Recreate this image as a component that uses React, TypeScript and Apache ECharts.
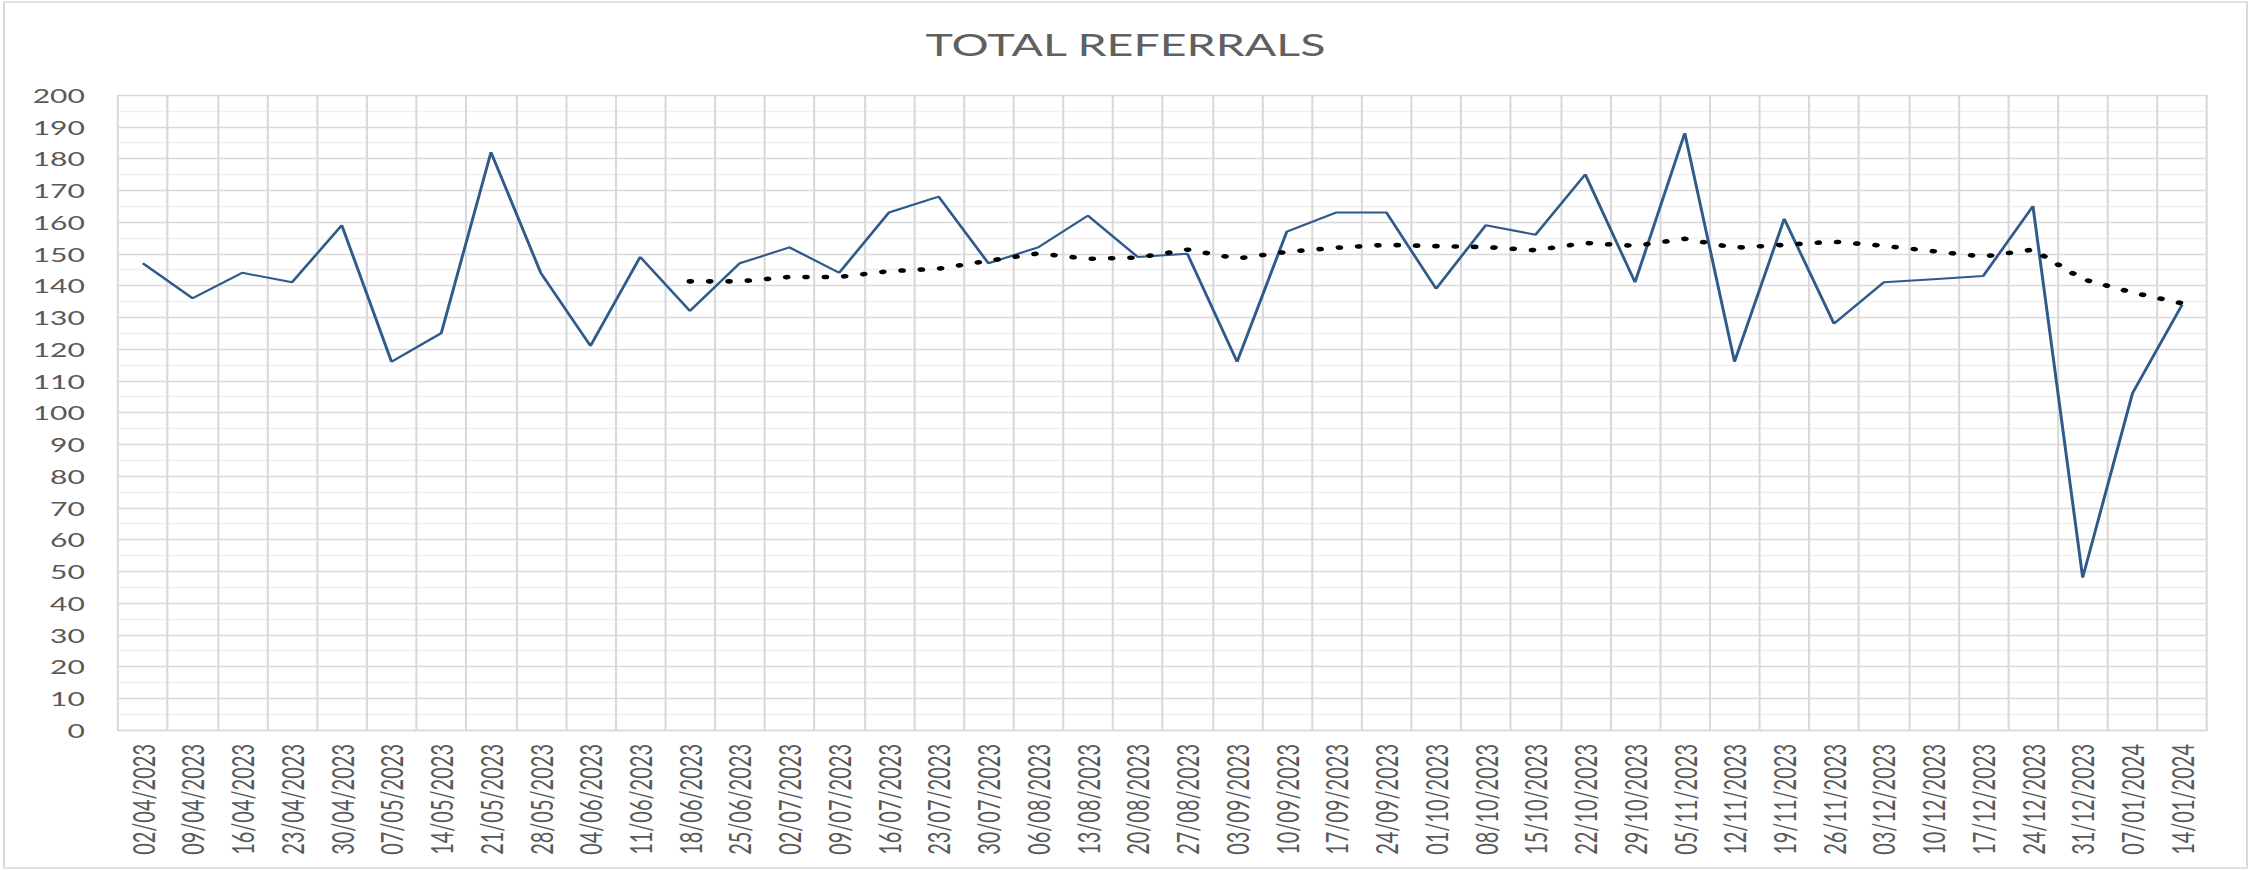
import React, { useEffect, useRef } from "react";
import * as echarts from "echarts";

const weeks: string[] = [
  "02/04/2023", "09/04/2023", "16/04/2023", "23/04/2023", "30/04/2023", "07/05/2023",
  "14/05/2023", "21/05/2023", "28/05/2023", "04/06/2023", "11/06/2023", "18/06/2023",
  "25/06/2023", "02/07/2023", "09/07/2023", "16/07/2023", "23/07/2023", "30/07/2023",
  "06/08/2023", "13/08/2023", "20/08/2023", "27/08/2023", "03/09/2023", "10/09/2023",
  "17/09/2023", "24/09/2023", "01/10/2023", "08/10/2023", "15/10/2023", "22/10/2023",
  "29/10/2023", "05/11/2023", "12/11/2023", "19/11/2023", "26/11/2023", "03/12/2023",
  "10/12/2023", "17/12/2023", "24/12/2023", "31/12/2023", "07/01/2024", "14/01/2024",
];

const referrals: number[] = [
  147, 136, 144, 141, 159, 116, 125, 182, 144, 121, 149, 132,
  147, 152, 144, 163, 168, 147, 152, 162, 149, 150, 116, 157,
  163, 163, 139, 159, 156, 175, 141, 188, 116, 161, 128, 141,
  142, 143, 165, 48, 106, 134,
];

// dotted trend line (12 week moving average)
const trend: (number | null)[] = [
  null, null, null, null, null, null, null, null, null, null, null,
  141.3, 141.3, 142.7, 142.7, 144.5, 145.3, 147.8, 150.1, 148.4, 148.8,
  151.3, 148.5, 150.6, 151.9, 152.8, 152.4, 152.1, 151.1, 153.4, 152.5,
  154.7, 151.9, 152.8, 153.8, 152.5, 150.8, 149.1, 151.3, 142.0, 137.8, 134.4,
];

const yTicks = { min: 0, max: 200, interval: 10 };

const FULL_W = 2251;
const H = 870;
const BASE_W = 1500;
const SX = FULL_W / BASE_W;

export default function App() {
  const ref = useRef<HTMLDivElement>(null);

  useEffect(() => {
    if (!ref.current) return;
    const chart = echarts.init(ref.current, undefined, { renderer: "svg", width: BASE_W, height: H });
    const font = "Lato, 'Open Sans', sans-serif";
    const grey = "#595959";
    const gridCol = "#D9D9D9";
    chart.setOption({
      animation: false,
      backgroundColor: "#ffffff",
      title: {
        text: "TOTAL REFERRALS",
        left: "center",
        top: 23,
        textStyle: { fontFamily: font, fontSize: 31, fontWeight: "normal", color: "#606060" },
      },
      graphic: [
        {
          type: "rect",
          shape: { x: 2.7, y: 2, width: 1494.6, height: 866 },
          style: { fill: "none", stroke: gridCol, lineWidth: 1.3 },
          silent: true,
        },
      ],
      grid: {
        left: 78.6,
        right: 29.3,
        top: 95,
        bottom: 140,
        outerBoundsMode: "none",
        containLabel: false,
      },
      xAxis: {
        type: "category",
        data: weeks,
        boundaryGap: true,
        axisLine: { show: true, lineStyle: { color: gridCol, width: 1.3 } },
        axisTick: { show: false },
        splitLine: {
          show: true,
          interval: 0,
          showMinLine: true,
          showMaxLine: true,
          lineStyle: { color: gridCol, width: 1.4 },
        },
        axisLabel: {
          interval: 0,
          rotate: 90,
          margin: 14,
          fontFamily: font,
          fontSize: 20,
          color: grey,
        },
      },
      yAxis: {
        type: "value",
        min: yTicks.min,
        max: yTicks.max,
        interval: yTicks.interval,
        axisLine: { show: false },
        axisTick: { show: false },
        axisLabel: { margin: 22, fontFamily: font, fontSize: 20, color: grey },
        splitLine: { show: true, lineStyle: { color: gridCol, width: 1.3 } },
        minorTick: { show: false, splitNumber: 2 },
        minorSplitLine: { show: true, lineStyle: { color: "#F0F0F0", width: 1.3 } },
      },
      series: [
        {
          name: "Total referrals",
          type: "line",
          data: referrals,
          symbol: "none",
          lineStyle: { color: "#2F5B8A", width: 2 },
          z: 3,
        },
        {
          name: "Trend",
          type: "line",
          data: trend,
          symbol: "none",
          connectNulls: false,
          lineStyle: { color: "#000000", width: 4.6, type: [0.5, 12.4], cap: "round" },
          z: 4,
        },
      ],
    });
    return () => chart.dispose();
  }, []);

  return (
    <div style={{ position: "absolute", left: 0, top: 0, width: FULL_W, height: H, overflow: "hidden", background: "#fff" }}>
      <div
        ref={ref}
        style={{ width: BASE_W, height: H, transform: `scaleX(${SX})`, transformOrigin: "0 0" }}
      />
    </div>
  );
}
